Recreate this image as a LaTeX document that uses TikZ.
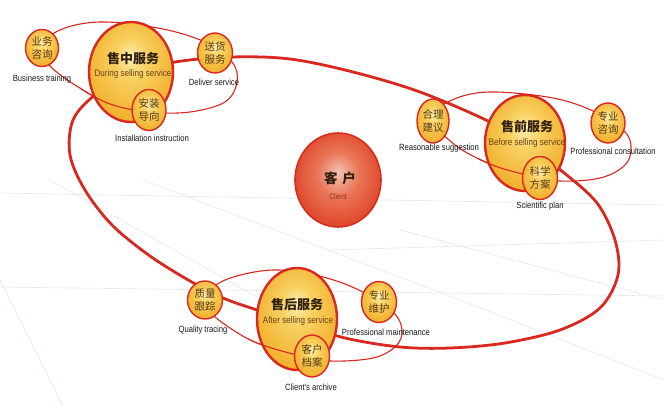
\documentclass[tikz,border=0pt]{standalone}
\usepackage{fontspec}
\setmainfont{Liberation Sans}
\newfontfamily\cjk{Noto Sans CJK SC}
\newfontfamily\narrow[FakeStretch=0.85]{Liberation Sans}
\usetikzlibrary{shapes.geometric}

\definecolor{ored}{RGB}{216,40,32}
\definecolor{gold0}{RGB}{252,238,176}
\definecolor{gold1}{RGB}{248,208,96}
\definecolor{gold2}{RGB}{240,172,38}
\definecolor{gold3}{RGB}{228,140,18}
\definecolor{red0}{RGB}{242,196,180}
\definecolor{red1}{RGB}{234,118,88}
\definecolor{red2}{RGB}{222,66,38}
\definecolor{red3}{RGB}{212,48,30}
\definecolor{titlebrown}{RGB}{50,32,14}
\definecolor{cjkbrown}{RGB}{86,56,20}
\definecolor{engbrown}{RGB}{104,66,22}
\definecolor{capgray}{RGB}{26,26,26}
\definecolor{gridline}{RGB}{226,236,240}

\pgfdeclareradialshading{goldball}{\pgfpoint{0bp}{8bp}}{%
  color(0bp)=(gold0); color(10bp)=(gold1); color(30bp)=(gold2);
  color(46bp)=(gold3); color(50bp)=(gold3)}
\pgfdeclareradialshading{redball}{\pgfpoint{0bp}{4bp}}{%
  color(0bp)=(red0); color(12bp)=(red1); color(28bp)=(red2);
  color(50bp)=(red3)}

% orbit paths (pixel-like units, y downwards)
\def\orbitMain{plot[smooth cycle, tension=0.55] coordinates {
  (73,120) (95,95) (131,74) (175,62) (232,57) (290,59) (353,72) (420,92)
  (490,122) (527,145) (563,172) (597,203) (615,240) (618,275) (600,308)
  (560,330) (505,343) (450,348) (400,347) (345,338) (297,323) (257,310)
  (223,298) (190,281) (150,256) (112,225) (85,190) (70,155)}}
\def\orbitDuring{plot[smooth cycle, tension=0.6] coordinates {
  (40,48) (60,30) (100,22) (158,28) (205,42) (232,62) (237,82) (225,102)
  (190,112) (150,112) (110,104) (75,85) (50,66)}}
\def\orbitBefore{plot[smooth cycle, tension=0.6] coordinates {
  (432,118) (452,100) (490,92) (553,98) (595,112) (625,132) (631,150)
  (624,166) (600,178) (560,181) (523,174) (490,164) (455,145)}}
\def\orbitAfter{plot[smooth cycle, tension=0.6] coordinates {
  (205,298) (225,280) (273,270) (323,277) (363,292) (393,312) (402,330)
  (396,346) (373,358) (330,361) (297,355) (257,343) (230,328) (210,312)}}

\tikzset{
  mainball/.style={ellipse, draw=ored, line width=2.4pt, shading=goldball, inner sep=0pt},
  clientball/.style={ellipse, draw=red3, line width=1.6pt, shading=redball, inner sep=0pt,
    minimum width=86pt, minimum height=94pt},
  subball/.style={ellipse, draw=ored, line width=1.4pt, shading=goldball, inner sep=0pt,
    align=center, text=cjkbrown, font=\cjk\fontsize{10.5}{12.5}\selectfont},
  orbit/.style={draw=ored, line width=1.1pt},
  mainorbit/.style={draw=ored, line width=2.8pt},
  cntitle/.style={inner sep=0pt, text=titlebrown, font=\cjk\bfseries\fontsize{13}{15}\selectfont},
  entitle/.style={inner sep=0pt, text=engbrown, font=\narrow\fontsize{9.5}{11}\selectfont},
  caption/.style={inner sep=0pt, text=capgray, font=\narrow\fontsize{9}{11}\selectfont},
  gridstroke/.style={draw=gridline, line width=0.7pt}
}

\begin{document}
\begin{tikzpicture}[x=1pt, y=-1pt]
\fill[white] (0,0) rectangle (664,406);
\useasboundingbox (0,0) rectangle (664,406);

% faint perspective grid in the background
\draw[gridstroke] (0,193) -- (664,205);
\draw[gridstroke] (0,287) -- (664,296);
\draw[gridstroke] (0,280) -- (63,406);
\draw[gridstroke] (50,180) -- (257,297);
\draw[gridstroke] (143,180) -- (460,300) -- (664,380);
\draw[gridstroke] (330,250) -- (664,240);
\draw[gridstroke] (400,230) -- (664,300);

% orbits behind the balls
\draw[mainorbit] \orbitMain;
\draw[orbit] \orbitDuring;
\draw[orbit] \orbitBefore;
\draw[orbit] \orbitAfter;

% client in the middle
\node[clientball] (client) at (338,180) {};
\node[inner sep=0pt, text=titlebrown, font=\cjk\bfseries\fontsize{13.5}{15}\selectfont]
  (clientcn) at (340,178) {客\hspace{5pt}户};
\node[inner sep=0pt, text=engbrown!70!red, font=\narrow\fontsize{8}{9}\selectfont]
  (clienten) at (338,197) {Client};

% the three service balls
\node[mainball, minimum width=84pt, minimum height=100pt] (during) at (131,72) {};
\node[mainball, minimum width=80pt, minimum height=96pt] (before) at (525,143) {};
\node[mainball, minimum width=80pt, minimum height=102pt] (after) at (297,319) {};

% front parts of the small orbits pass over the balls
\begin{scope}
  \clip (80,86) rectangle (136,124);
  \draw[orbit] \orbitDuring;
\end{scope}
\begin{scope}
  \clip (478,152) rectangle (526,186);
  \draw[orbit] \orbitBefore;
\end{scope}
\begin{scope}
  \clip (248,330) rectangle (300,368);
  \draw[orbit] \orbitAfter;
\end{scope}

\node[cntitle] (duringcn) at (133,59) {售中服务};
\node[entitle] (duringen) at (133,74) {During selling service};
\node[cntitle] (beforecn) at (527,127) {售前服务};
\node[entitle] (beforeen) at (527,143) {Before selling service};
\node[cntitle] (aftercn) at (297,305) {售后服务};
\node[entitle] (afteren) at (298,321) {After selling service};

% small balls on the orbits
\node[subball, minimum width=33pt, minimum height=37pt] (s11) at (42,48) {业务\\咨询};
\node[subball, minimum width=35pt, minimum height=40pt] (s12) at (215,53) {送货\\服务};
\node[subball, minimum width=34pt, minimum height=41pt] (s13) at (149,110) {安装\\导向};
\node[subball, minimum width=32pt, minimum height=44pt] (s21) at (433,121) {合理\\建议};
\node[subball, minimum width=34pt, minimum height=40pt] (s22) at (608,123) {专业\\咨询};
\node[subball, minimum width=35pt, minimum height=43pt] (s23) at (540,178) {科学\\方案};
\node[subball, minimum width=35pt, minimum height=38pt] (s31) at (205,300) {质量\\跟踪};
\node[subball, minimum width=35pt, minimum height=41pt] (s32) at (379,302) {专业\\维护};
\node[subball, minimum width=35pt, minimum height=42pt] (s33) at (312,356) {客户\\档案};

% captions
\node[caption] (c11) at (42,79) {Business training};
\node[caption] (c12) at (214,82) {Deliver service};
\node[caption] (c13) at (152,138) {Installation instruction};
\node[caption] (c21) at (439,148) {Reasonable suggestion};
\node[caption] (c22) at (613,151) {Professional consultation};
\node[caption] (c23) at (540,206) {Scientific plan};
\node[caption] (c31) at (203,330) {Quality tracing};
\node[caption] (c32) at (386,332) {Professional maintenance};
\node[caption] (c33) at (311,387) {Client's archive};
\end{tikzpicture}
\end{document}
